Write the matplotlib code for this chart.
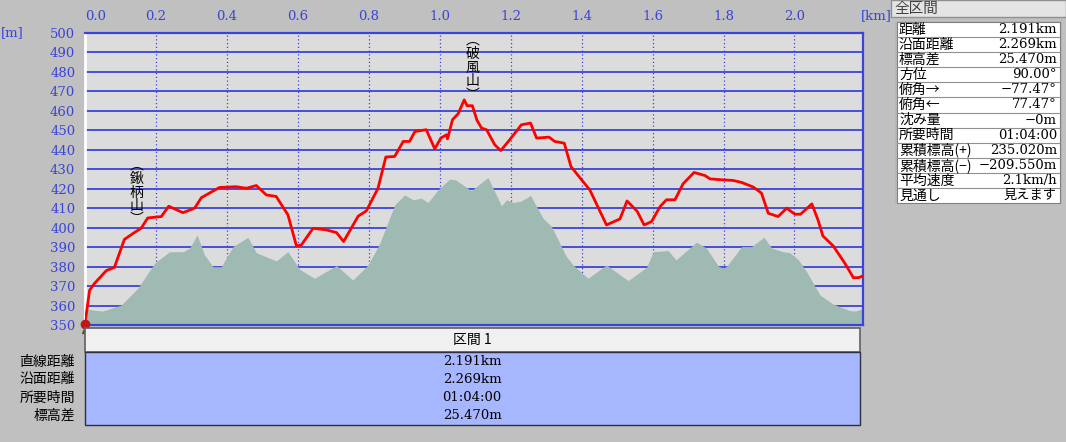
import numpy as np
import matplotlib.pyplot as plt
from matplotlib.patches import Rectangle

plt.rcParams["font.family"] = ["Noto Sans CJK JP", "DejaVu Sans"]

# ---- profile data (km, m) ----
route_km = [0.0, 0.013, 0.027, 0.060, 0.083, 0.111, 0.135, 0.158, 0.177, 0.215,
            0.236, 0.276, 0.309, 0.328, 0.379, 0.426, 0.455, 0.483, 0.511, 0.539,
            0.572, 0.596, 0.610, 0.643, 0.680, 0.709, 0.729, 0.770, 0.793, 0.826,
            0.848, 0.873, 0.897, 0.915, 0.930, 0.962, 0.986, 1.003, 1.019, 1.022,
            1.036, 1.052, 1.069, 1.077, 1.092, 1.105, 1.118, 1.132, 1.155, 1.172,
            1.197, 1.230, 1.256, 1.273, 1.308, 1.324, 1.351, 1.370, 1.404, 1.423,
            1.470, 1.508, 1.528, 1.557, 1.576, 1.597, 1.621, 1.639, 1.663, 1.686,
            1.717, 1.748, 1.762, 1.799, 1.827, 1.851, 1.884, 1.907, 1.926, 1.954,
            1.978, 2.001, 2.017, 2.049, 2.067, 2.080, 2.109, 2.142, 2.166, 2.180,
            2.194]
route_elev = [351, 368, 371.5, 378, 379.7, 394, 397, 399.7, 405, 405.7,
              411, 407.7, 410, 415.4, 420.6, 421, 420.2, 421.6, 416.8, 416,
              406.6, 390.7, 391.2, 399.7, 398.9, 397.5, 392.9, 405.9, 408.6, 420.2,
              436.2, 436.5, 444.2, 444.2, 449.3, 450.2, 440.4, 445.9, 447.6, 445.5,
              455.3, 458.4, 465.5, 462.5, 462.5, 455, 451, 450.2, 442.5, 439.5,
              445, 452.7, 453.6, 445.9, 446.4, 444.2, 443.3, 431.3, 423.6, 419.4,
              401.4, 404.5, 413.7, 408.3, 401.4, 403.1, 410.8, 414.3, 414.3, 422.5,
              428.3, 426.7, 425, 424.5, 424.2, 423.2, 420.8, 417.7, 407.4, 405.7,
              410, 406.9, 406.9, 412.2, 403.6, 395.8, 390.7, 381.8, 374.4, 374.4,
              375.3]

terrain_km = [0.0, 0.022, 0.050, 0.102, 0.149, 0.196, 0.238, 0.276, 0.295, 0.316,
              0.337, 0.361, 0.384, 0.417, 0.459, 0.483, 0.539, 0.572, 0.605, 0.647,
              0.709, 0.755, 0.798, 0.831, 0.873, 0.901, 0.925, 0.948, 0.967, 0.995,
              1.028, 1.045, 1.089, 1.136, 1.174, 1.188, 1.207, 1.230, 1.256, 1.291,
              1.315, 1.357, 1.376, 1.418, 1.470, 1.531, 1.583, 1.602, 1.644, 1.666,
              1.724, 1.752, 1.785, 1.799, 1.810, 1.851, 1.879, 1.914, 1.936, 1.968,
              1.987, 2.011, 2.034, 2.072, 2.109, 2.156, 2.173, 2.194]
terrain_elev = [358.7, 357.8, 357.3, 360.4, 369, 381.8, 387.7, 387.7, 389.5, 396.3,
                386, 380, 380, 390.3, 395.1, 387.2, 383, 387.7, 378.7, 374.1,
                380.6, 373.2, 380.9, 392, 411.7, 416.8, 414.3, 415.1, 412.9, 419.4,
                424.9, 424.5, 419, 425.7, 411.2, 414.3, 412.9, 413.7, 416.5, 404.9,
                400.6, 385.2, 380.9, 374.1, 380.9, 372.9, 379.7, 387.7, 388.3, 383.5,
                392.6, 389.5, 380.4, 379.2, 380.5, 390.3, 390.3, 395.1, 389.5, 387.7,
                387.2, 383.5, 377.5, 365.5, 360.9, 357.5, 357.3, 358.7]

peaks = ["鍬柄山", "破風山"]
peak_km = [0.146, 1.093]
peak_elev = [418, 482]

x_ticks = [0.0, 0.2, 0.4, 0.6, 0.8, 1.0, 1.2, 1.4, 1.6, 1.8, 2.0]
y_ticks = list(range(350, 501, 10))

row_labels = ["直線距離", "沿面距離", "所要時間", "標高差"]
row_values = ["2.191km", "2.269km", "01:04:00", "25.470m"]

summary_labels = ["距離", "沿面距離", "標高差", "方位", "俯角→", "俯角←", "沈み量",
                  "所要時間", "累積標高(+)", "累積標高(−)", "平均速度", "見通し"]
summary_values = ["2.191km", "2.269km", "25.470m", "90.00°", "−77.47°", "77.47°", "−0m",
                  "01:04:00", "235.020m", "−209.550m", "2.1km/h", "見えます"]

W, H = 1066, 442
BLUE = "#3a44d8"
fig = plt.figure(figsize=(W / 100, H / 100), dpi=100, facecolor="#c0c0c0")


def fx(px):
    return px / W


def fy(py):
    return 1 - py / H


def box(x0, y0, x1, y1, fc, ec="none", lw=1.0):
    fig.patches.append(Rectangle((fx(x0), fy(y1)), fx(x1) - fx(x0), fy(y0) - fy(y1),
                                 transform=fig.transFigure, facecolor=fc,
                                 edgecolor=ec, linewidth=lw))


ax = fig.add_axes([fx(85), fy(325.3), fx(863.3) - fx(85), fy(32.5) - fy(325.3)])
ax.set_facecolor("#dcdcdc")
ax.set_xlim(0, 2.194)
ax.set_ylim(350, 500)

for y in y_ticks[1:-1]:
    ax.axhline(y, color=BLUE, lw=1.3, zorder=1)
for x in x_ticks[1:]:
    ax.axvline(x, color=BLUE, lw=0.9, ls=(0, (1, 2)), zorder=1)

ax.fill_between(terrain_km, 350, terrain_elev, color="#9fbab2", lw=0, zorder=2)
ax.plot(route_km, route_elev, color="#ff0000", lw=2.0, zorder=3)

for name, px, py in zip(peaks, peak_km, peak_elev):
    ax.text(px, py, "︵\n" + "\n".join(name) + "\n︶", ha="center", va="center",
            fontsize=10, linespacing=0.95, color="black", zorder=4)

# hiker marker at the start
ax.plot([0.0], [350.5], marker="o", ms=6, color="#c01818", clip_on=False, zorder=5)
ax.plot([0.0], [347.5], marker="^", ms=5, color="#6b4a2a", clip_on=False, zorder=5)

ax.set_xticks(x_ticks)
ax.set_yticks(y_ticks)
ax.xaxis.tick_top()
ax.set_xticklabels([f"{v:.1f}" for v in x_ticks], color=BLUE, fontsize=9.5,
                   family=["DejaVu Serif"])
ax.set_yticklabels([str(v) for v in y_ticks], color=BLUE, fontsize=9.5,
                   family=["DejaVu Serif"])
ax.get_xticklabels()[0].set_ha("left")
ax.tick_params(length=0, pad=7)
for s in ax.spines.values():
    s.set_color(BLUE)
    s.set_linewidth(1.6)
ax.spines["left"].set_color("white")
ax.spines["left"].set_linewidth(2)

fig.text(fx(12), fy(33), "[m]", color=BLUE, fontsize=9.5, ha="center", va="center",
         family=["DejaVu Serif"])
fig.text(fx(876), fy(16), "[km]", color=BLUE, fontsize=9.5, ha="center", va="center",
         family=["DejaVu Serif"])

# ---- section table under the chart ----
box(85, 328, 860, 352, "#f0f0f0", "#606060", 1.2)
fig.text(fx(472), fy(340), "区間 1", fontsize=10, ha="center", va="center")
box(85, 352, 860, 425, "#a6b6ff", "#303040", 1.0)
for i, (lab, val) in enumerate(zip(row_labels, row_values)):
    yy = 361.5 + i * 18
    fig.text(fx(75), fy(yy), lab, fontsize=10, ha="right", va="center")
    fig.text(fx(472), fy(yy), val, fontsize=9.5, ha="center", va="center",
             family=["DejaVu Serif"])

# ---- summary panel on the right ----
box(891, 0, 1066, 17, "#e4e4e4", "#909090", 1.0)
fig.text(fx(894), fy(9), "全区間", fontsize=10.5, ha="left", va="center", color="#404040")
box(895, 21, 1062, 204, "#b8b8b8", "none")
box(897, 22, 1060, 203, "white", "#808080", 0.8)
row_h = (203 - 22) / len(summary_labels)
for i, (lab, val) in enumerate(zip(summary_labels, summary_values)):
    y0 = 22 + i * row_h
    if i > 0:
        fig.add_artist(plt.Line2D([fx(897), fx(1060)], [fy(y0), fy(y0)],
                                  color="#909090", lw=0.8))
    fig.text(fx(899), fy(y0 + row_h / 2), lab, fontsize=10, ha="left", va="center")
    fig.text(fx(1057), fy(y0 + row_h / 2), val, fontsize=9.5, ha="right", va="center",
             family=["DejaVu Serif", "Noto Sans CJK JP"])

fig.savefig("out.png", dpi=100, facecolor=fig.get_facecolor())
